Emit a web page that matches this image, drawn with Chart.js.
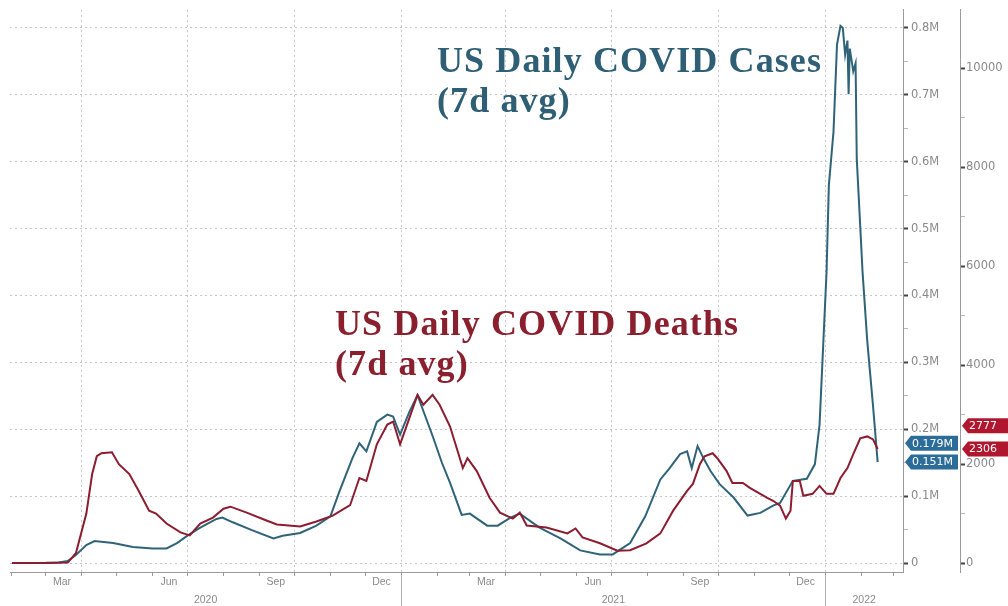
<!DOCTYPE html>
<html>
<head>
<meta charset="utf-8">
<script src="https://cdn.jsdelivr.net/npm/chart.js@4.4.1/dist/chart.umd.min.js"></script>
<style>
  html, body { margin: 0; padding: 0; background: #fff; overflow: hidden; }
  #wrap { position: relative; width: 1008px; height: 606px; }
  canvas { position: absolute; left: 0; top: 0; }
  .note { position: absolute; font-family: 'Liberation Serif', serif; font-weight: bold; font-size: 36px; line-height: 40px; letter-spacing: 1.1px; white-space: nowrap; }
</style>
</head>
<body>
<div id="wrap">
  <canvas id="covidChart" width="1008" height="606"></canvas>
  <div class="note" style="left:437px;top:40px;color:#2f5f74">US Daily COVID Cases<br>(7d avg)</div>
  <div class="note" style="left:335px;top:303px;color:#8a1f2e">US Daily COVID Deaths<br>(7d avg)</div>
</div>
<script>
// cases, 7d avg, in thousands
const caseDates = [
  '2020-02-01','2020-03-01','2020-03-12','2020-03-20','2020-03-27','2020-04-05','2020-04-12','2020-04-28',
  '2020-05-15','2020-06-01','2020-06-13','2020-06-22','2020-07-01','2020-07-12','2020-07-26','2020-07-31',
  '2020-08-09','2020-08-26','2020-09-13','2020-09-21','2020-10-06','2020-10-20','2020-11-01','2020-11-09',
  '2020-11-20','2020-11-26','2020-12-02','2020-12-11','2020-12-20','2020-12-25','2020-12-31','2021-01-08',
  '2021-01-15','2021-01-28','2021-02-05','2021-02-12','2021-02-22','2021-03-01','2021-03-16','2021-03-25',
  '2021-04-05','2021-04-13','2021-04-30','2021-05-18','2021-06-04','2021-06-21','2021-07-02','2021-07-17',
  '2021-07-30','2021-08-12','2021-08-20','2021-08-29','2021-09-04','2021-09-08','2021-09-13','2021-09-18',
  '2021-09-24','2021-10-02','2021-10-14','2021-10-26','2021-11-06','2021-11-17','2021-11-23','2021-12-04',
  '2021-12-16','2021-12-23','2021-12-27','2021-12-30','2022-01-02','2022-01-04','2022-01-08','2022-01-11',
  '2022-01-14','2022-01-16','2022-01-18','2022-01-20','2022-01-21','2022-01-22','2022-01-25','2022-01-27',
  '2022-01-28','2022-02-02','2022-02-06','2022-02-11','2022-02-15'
];
const caseValues = [
  0.3, 0.5, 1, 3, 12, 27, 33, 30,
  24, 22, 22, 30, 41, 53, 66, 68,
  61, 49, 37, 41, 45, 56, 70, 108,
  157, 179, 167, 211, 222, 219, 192, 226,
  251, 190, 150, 120, 72, 74, 56, 56,
  68, 74, 53, 37, 19, 13, 13, 30,
  70, 125, 142, 163, 167, 142, 175, 157,
  138, 118, 98, 71, 75, 86, 90, 123,
  126, 148, 207, 321, 435, 565, 645, 775,
  803, 800, 760, 781, 701, 769, 735, 747,
  605, 435, 333, 235, 151
];

// deaths, 7d avg
const deathDates = [
  '2020-02-01','2020-03-01','2020-03-20','2020-03-27','2020-04-05','2020-04-10','2020-04-14','2020-04-18',
  '2020-04-27','2020-05-03','2020-05-12','2020-05-20','2020-05-29','2020-06-04','2020-06-13','2020-06-25',
  '2020-07-03','2020-07-12','2020-07-23','2020-08-01','2020-08-07','2020-08-21','2020-09-07','2020-09-16',
  '2020-10-06','2020-10-20','2020-11-03','2020-11-18','2020-11-26','2020-12-02','2020-12-11','2020-12-20',
  '2020-12-25','2020-12-31','2021-01-06','2021-01-15','2021-01-20','2021-01-28','2021-02-03','2021-02-12',
  '2021-02-23','2021-02-27','2021-03-07','2021-03-18','2021-03-27','2021-04-07','2021-04-13','2021-04-19',
  '2021-05-06','2021-05-24','2021-05-31','2021-06-06','2021-06-21','2021-07-06','2021-07-17','2021-07-31',
  '2021-08-12','2021-08-23','2021-09-04','2021-09-09','2021-09-15','2021-09-19','2021-09-26','2021-09-30',
  '2021-10-08','2021-10-13','2021-10-22','2021-10-28','2021-11-06','2021-11-12','2021-11-17','2021-11-23',
  '2021-11-28','2021-12-02','2021-12-04','2021-12-10','2021-12-13','2021-12-21','2021-12-27','2022-01-02',
  '2022-01-08','2022-01-14','2022-01-20','2022-01-25','2022-01-31','2022-02-06','2022-02-11','2022-02-15'
];
const deathValues = [
  0, 2, 10, 200, 1000, 1800, 2160, 2220,
  2240, 2000, 1800, 1460, 1060, 1000, 800, 620,
  560, 800, 920, 1100, 1140, 1020, 860, 780,
  740, 840, 960, 1170, 1720, 1660, 2400, 2800,
  2860, 2400, 2800, 3400, 3200, 3400, 3200, 2760,
  1920, 2120, 1860, 1320, 1020, 900, 1020, 760,
  720, 600, 700, 520, 400, 250, 260, 400,
  600, 1060, 1460, 1600, 2000, 2160, 2220, 2120,
  1860, 1620, 1620, 1520, 1400, 1320, 1260, 1160,
  900, 1060, 1660, 1660, 1360, 1400, 1560, 1400,
  1400, 1720, 1920, 2200, 2520, 2560, 2500, 2306
];

const caseTicks = [0, 50, 100, 150, 200, 250, 300, 350, 400, 450, 500, 550, 600, 650, 700, 750, 800];
const caseTickLabels = ['0', '', '0.1M', '', '0.2M', '', '0.3M', '', '0.4M', '', '0.5M', '', '0.6M', '', '0.7M', '', '0.8M'];
const deathTicks = [0, 1000, 2000, 3000, 4000, 5000, 6000, 7000, 8000, 9000, 10000];
const deathTickLabels = ['0', '', '2000', '', '4000', '', '6000', '', '8000', '', '10000'];
const monthLabels = ['Mar', 'Jun', 'Sep', 'Dec'];
const years = ['2020', '2021', '2022'];

const caseTags = [179, 151];
const caseTagLabels = ['0.179M', '0.151M'];
const deathTags = [2777, 2306];
const deathTagLabels = ['2777', '2306'];

const BLUE = '#2f6478';
const RED = '#8c1c2f';
const GRID = '#c6c6c6';
const TXT = '#8a8a8a';

const dayOf = s => {
  const [y, m, d] = s.split('-').map(Number);
  return (Date.UTC(y, m - 1, d) - Date.UTC(2020, 0, 1)) / 86400000;
};
const xMin = 29.3, xMax = 797.8;

// month ticks: starts (small marks, quarter grid) + mid-month labels
const monthTicks = [];
for (let y = 2020; y <= 2022; y++) {
  for (let m = 0; m < 12; m++) {
    const start = (Date.UTC(y, m, 1) - Date.UTC(2020, 0, 1)) / 86400000;
    if (start >= xMin && start <= xMax) monthTicks.push({ value: start, kind: m % 3 === 0 ? 'quarter' : 'month', label: '' });
    const mid = start + 14;
    if (m % 3 === 2 && mid >= xMin && mid <= xMax) monthTicks.push({ value: mid, kind: 'label', label: monthLabels[(m - 2) / 3] });
  }
}
monthTicks.sort((a, b) => a.value - b.value);

const yearBounds = [dayOf('2021-01-01'), dayOf('2022-01-01')];
const yearEdges = [xMin, ...yearBounds, xMax];
const yearTicks = years.map((y, i) => ({ value: (yearEdges[i] + yearEdges[i + 1]) / 2, label: y }));

const extras = {
  id: 'extras',
  afterDraw(chart) {
    const ctx = chart.ctx;
    const xs = chart.scales.x, yc = chart.scales.yc, yd = chart.scales.yd;
    // year separators below the axis
    ctx.save();
    ctx.strokeStyle = '#b0b0b0';
    ctx.lineWidth = 1;
    yearBounds.forEach(d => {
      const px = Math.round(xs.getPixelForValue(d)) + 0.5;
      ctx.beginPath();
      ctx.moveTo(px, chart.chartArea.bottom + 3);
      ctx.lineTo(px, chart.height);
      ctx.stroke();
    });
    // last value tags
    const drawTag = (x1, x2, y, text, fill) => {
      const h = 15;
      ctx.beginPath();
      ctx.moveTo(x1, y);
      ctx.lineTo(x1 + 6, y - h / 2);
      ctx.lineTo(x2, y - h / 2);
      ctx.lineTo(x2, y + h / 2);
      ctx.lineTo(x1 + 6, y + h / 2);
      ctx.closePath();
      ctx.fillStyle = fill;
      ctx.fill();
      ctx.fillStyle = '#fff';
      ctx.font = '11px "DejaVu Sans"';
      ctx.textBaseline = 'middle';
      ctx.textAlign = 'left';
      ctx.fillText(text, x1 + 7, y + 0.5);
    };
    caseTags.forEach((v, i) => drawTag(yc.left + 2, yd.left - 2, yc.getPixelForValue(v), caseTagLabels[i], '#2b6c99'));
    deathTags.forEach((v, i) => drawTag(yd.left + 2, chart.width, yd.getPixelForValue(v), deathTagLabels[i], '#b0172e'));
    ctx.restore();
  }
};

const ctx = document.getElementById('covidChart').getContext('2d');
new Chart(ctx, {
  type: 'line',
  data: {
    datasets: [
      {
        label: 'US Daily COVID Deaths (7d avg)',
        data: deathDates.map((d, i) => ({ x: dayOf(d), y: deathValues[i] })),
        yAxisID: 'yd',
        borderColor: RED,
        borderWidth: 2,
        pointRadius: 0,
        tension: 0
      },
      {
        label: 'US Daily COVID Cases (7d avg)',
        data: caseDates.map((d, i) => ({ x: dayOf(d), y: caseValues[i] })),
        yAxisID: 'yc',
        borderColor: BLUE,
        borderWidth: 2,
        pointRadius: 0,
        tension: 0
      }
    ]
  },
  options: {
    responsive: false,
    animation: false,
    layout: { padding: { left: 10, top: 4, right: 0, bottom: 0 } },
    plugins: { legend: { display: false }, tooltip: { enabled: false } },
    scales: {
      x: {
        type: 'linear', position: 'bottom', weight: 0, bounds: 'data',
        min: xMin, max: xMax,
        afterBuildTicks: s => { s.ticks = monthTicks.map(t => ({ value: t.value })); },
        afterFit: s => { s.height = 18; },
        grid: {
          color: c => (monthTicks[c.index] && monthTicks[c.index].kind === 'quarter') ? GRID : 'rgba(0,0,0,0)',
          tickColor: c => (monthTicks[c.index] && monthTicks[c.index].kind === 'label') ? 'rgba(0,0,0,0)' : '#999',
          tickLength: 4
        },
        border: { color: '#9a9a9a', dash: [2, 3] },
        ticks: {
          autoSkip: false, maxRotation: 0, padding: 0,
          color: TXT, font: { family: 'Liberation Sans', size: 10.5 },
          callback: (v, i) => monthTicks[i] ? monthTicks[i].label : ''
        }
      },
      xy: {
        type: 'linear', position: 'bottom', weight: 1, bounds: 'data',
        min: xMin, max: xMax,
        afterBuildTicks: s => { s.ticks = yearTicks.map(t => ({ value: t.value })); },
        afterFit: s => { s.height = 16; },
        grid: { display: false, drawTicks: false },
        border: { display: false },
        ticks: {
          autoSkip: false, maxRotation: 0, padding: 4,
          color: TXT, font: { family: 'Liberation Sans', size: 10.5 },
          callback: (v, i) => yearTicks[i] ? yearTicks[i].label : ''
        }
      },
      yc: {
        type: 'linear', position: 'right', weight: 0, bounds: 'data',
        min: -13.3, max: 826.9,
        afterBuildTicks: s => { s.ticks = caseTicks.map(v => ({ value: v })); },
        afterFit: s => { s.width = 57; },
        grid: {
          color: c => (caseTickLabels[c.index] ? GRID : 'rgba(0,0,0,0)'),
          tickColor: c => (caseTickLabels[c.index] ? '#444' : '#bbb'),
          tickWidth: c => (caseTickLabels[c.index] ? 2 : 1),
          tickLength: 5
        },
        border: { color: '#9a9a9a', dash: [2, 3] },
        ticks: {
          padding: 3, color: TXT, font: { family: 'DejaVu Sans', size: 11.5 },
          callback: (v, i) => caseTickLabels[i]
        }
      },
      yd: {
        type: 'linear', position: 'right', weight: 1, bounds: 'data',
        min: -180, max: 11180,
        afterBuildTicks: s => { s.ticks = deathTicks.map(v => ({ value: v })); },
        afterFit: s => { s.width = 48; },
        grid: {
          drawOnChartArea: false,
          tickColor: c => (deathTickLabels[c.index] ? '#444' : '#bbb'),
          tickWidth: c => (deathTickLabels[c.index] ? 2 : 1),
          tickLength: 5
        },
        border: { color: '#9a9a9a' },
        ticks: {
          padding: 1, color: TXT, font: { family: 'DejaVu Sans', size: 11.5 },
          callback: (v, i) => deathTickLabels[i]
        }
      }
    }
  },
  plugins: [extras]
});
</script>
</body>
</html>
